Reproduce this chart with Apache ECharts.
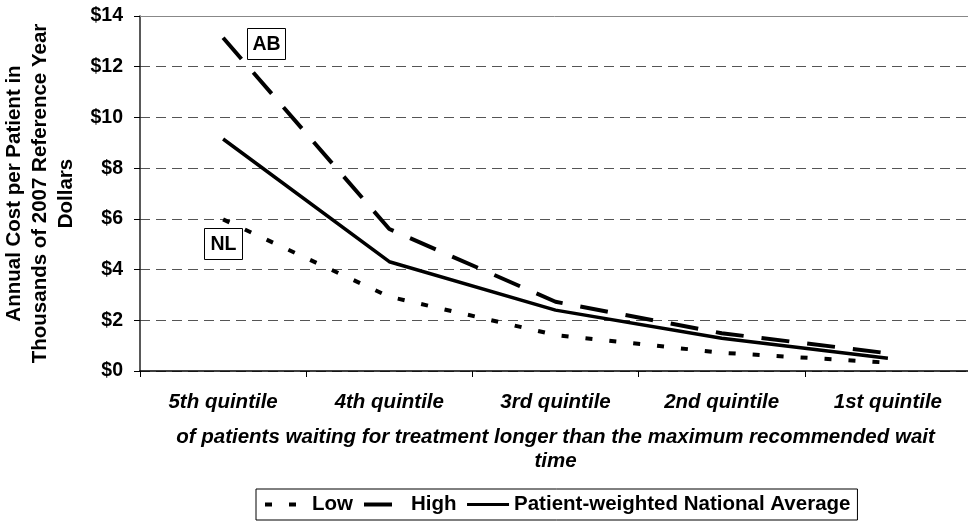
<!DOCTYPE html>
<html>
<head>
<meta charset="utf-8">
<script src="https://cdn.jsdelivr.net/npm/echarts@6/dist/echarts.min.js"></script>
<style>
html,body{margin:0;padding:0;background:#fff;}
#chart{width:968px;height:521px;}
</style>
</head>
<body>
<div id="chart"></div>
<script>
var categories = ['5th quintile', '4th quintile', '3rd quintile', '2nd quintile', '1st quintile'];
var lowValues = [5.98, 2.93, 1.42, 0.72, 0.33];
var highValues = [13.14, 5.6, 2.73, 1.49, 0.70];
var avgValues = [9.15, 4.31, 2.4, 1.29, 0.5];
var yTicks = {min: 0, max: 14, interval: 2};

var FONT = 'Liberation Sans, Arial, sans-serif';
var chart = echarts.init(document.getElementById('chart'));
chart.setOption({
  animation: false,
  backgroundColor: '#fff',
  grid: {left: 140, right: -3, top: 16, bottom: 150, containLabel: false, outerBoundsMode: 'none'},
  legend: {
    data: [
      {name: 'Low', lineStyle: {width: 4, type: [7, 17]}},
      {name: 'High', lineStyle: {width: 4, type: [28, 18]}},
      {name: 'Patient-weighted National Average', lineStyle: {width: 3, type: 'solid'}}
    ],
    top: 489,
    left: 256,
    itemWidth: 42,
    itemHeight: 14,
    itemGap: 9,
    padding: [5, 7, 5, 7],
    borderColor: '#000',
    borderWidth: 1,
    itemStyle: {opacity: 0, color: 'transparent', borderWidth: 0},
    textStyle: {fontFamily: FONT, fontWeight: 'bold', fontSize: 20.5, color: '#000'}
  },
  xAxis: [{
    type: 'category',
    data: categories,
    boundaryGap: true,
    axisLine: {lineStyle: {color: '#000', width: 1.5}},
    axisTick: {show: true, length: 6, lineStyle: {color: '#000'}},
    axisLabel: {fontFamily: FONT, fontWeight: 'bold', fontStyle: 'italic', fontSize: 20.5, color: '#000', margin: 21},
    name: 'of patients waiting for treatment longer than the maximum recommended wait\ntime',
    nameLocation: 'middle',
    nameGap: 55,
    nameTextStyle: {fontFamily: FONT, fontWeight: 'bold', fontStyle: 'italic', fontSize: 20.5, color: '#000', lineHeight: 23.5}
  }, {
    type: 'category',
    position: 'top',
    data: categories,
    axisLine: {lineStyle: {color: '#888', width: 1}},
    axisTick: {show: false},
    axisLabel: {show: false}
  }],
  yAxis: {
    type: 'value',
    min: yTicks.min,
    max: yTicks.max,
    interval: yTicks.interval,
    axisLine: {show: true, lineStyle: {color: '#222', width: 1.5}},
    axisTick: {show: true, length: 6, lineStyle: {color: '#000'}},
    axisLabel: {fontFamily: FONT, fontWeight: 'bold', fontSize: 19.5, color: '#000', margin: 17,
      formatter: function (v) { return '$' + v; }},
    splitLine: {show: true, lineStyle: {color: '#555', width: 1, type: [10, 6]}},
    name: 'Annual Cost per Patient in\nThousands of 2007 Reference Year\nDollars',
    nameLocation: 'middle',
    nameRotate: 90,
    nameGap: 59,
    nameTextStyle: {fontFamily: FONT, fontWeight: 'bold', fontSize: 20.5, color: '#000', lineHeight: 26}
  },
  series: [{
    name: 'Low', type: 'line', data: lowValues, symbol: 'none',
    lineStyle: {color: '#000', width: 4, type: [7, 17], cap: 'butt'},
    itemStyle: {color: '#000'}
  }, {
    name: 'High', type: 'line', data: highValues, symbol: 'none',
    lineStyle: {color: '#000', width: 4, type: [28, 18], cap: 'butt'},
    itemStyle: {color: '#000'}
  }, {
    name: 'Patient-weighted National Average', type: 'line', data: avgValues, symbol: 'none',
    lineStyle: {color: '#000', width: 3.5, type: 'solid'},
    itemStyle: {color: '#000'}
  }],
  graphic: [{
    type: 'group', left: 247, top: 28,
    children: [
      {type: 'rect', shape: {x: 0, y: 0, width: 38, height: 31}, style: {fill: '#fff', stroke: '#000', lineWidth: 1}},
      {type: 'text', x: 19, y: 16, style: {text: 'AB', fontFamily: FONT, fontWeight: 'bold', fontSize: 19.5, fill: '#000', align: 'center', verticalAlign: 'middle'}}
    ]
  }, {
    type: 'group', left: 204, top: 228,
    children: [
      {type: 'rect', shape: {x: 0, y: 0, width: 38, height: 31}, style: {fill: '#fff', stroke: '#000', lineWidth: 1}},
      {type: 'text', x: 19, y: 16, style: {text: 'NL', fontFamily: FONT, fontWeight: 'bold', fontSize: 19.5, fill: '#000', align: 'center', verticalAlign: 'middle'}}
    ]
  }]
});
</script>
</body>
</html>
